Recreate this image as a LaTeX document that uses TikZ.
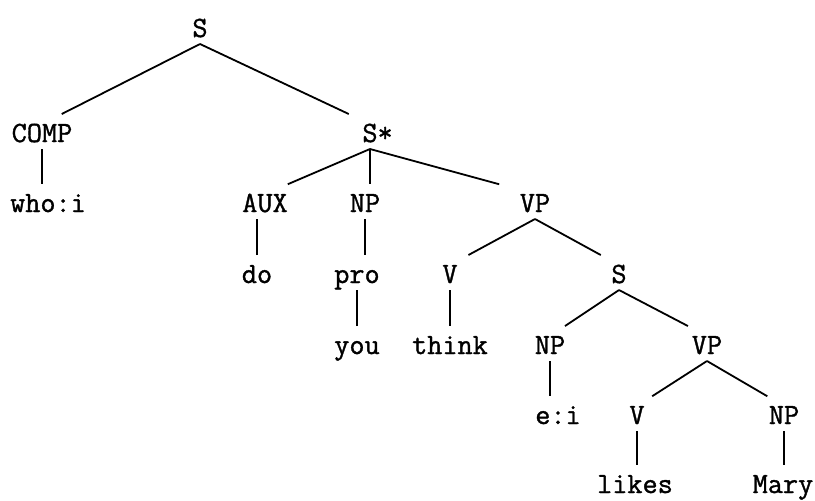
\documentclass[tikz,border=0pt]{standalone}
\usepackage{fontspec}
\newfontfamily\treefont{Latin Modern Mono}[FakeBold=1.2]
\usetikzlibrary{calc}
\tikzset{
  lbl/.style={anchor=base, inner sep=0pt, font=\fontsize{14.7}{16}\treefont},
  edge/.style={line width=0.9pt}
}
% slanted branch: from below the parent towards the top of the child
\newcommand\tbranch[3][0.217]{%
  \path ($(#2.base)+(0,7)$) coordinate (ta) ($(#3.base)+(0,-18)$) coordinate (tb);
  \draw[edge] (ta) -- ($(tb)!#1!(ta)$);}
% vertical branch under the parent
\newcommand\tvert[2]{%
  \path ($(#2.base)+(0,-28)$) coordinate (tb);
  \draw[edge] ($(#1.base)+(0,7)$) coordinate (ta) -- (ta |- tb);}
% vertical branch above the child
\newcommand\tvertc[2]{%
  \path ($(#1.base)+(0,7)$) coordinate (ta);
  \draw[edge] ($(#2.base)+(0,-28)$) coordinate (tb) -- (tb |- ta);}
\begin{document}
\begin{tikzpicture}[x=0.5pt,y=-0.5pt]
\useasboundingbox (0,0) rectangle (815,500);
\node[lbl] (S0)    at (200,37)  {S};
\node[lbl] (COMP)  at (42,142)  {COMP};
\node[lbl] (Sstar) at (370,142) {S\rlap{*}};
\node[lbl] (who)   at (48,212)  {who:i};
\node[lbl] (AUX)   at (265,212) {AUX};
\node[lbl] (NP1)   at (365,212) {NP};
\node[lbl] (VP1)   at (535,212) {VP};
\node[lbl] (do)    at (257,283) {do};
\node[lbl] (pro)   at (357,283) {pro};
\node[lbl] (V1)    at (450,283) {V};
\node[lbl] (S2)    at (619,283) {S};
\node[lbl] (you)   at (357,354) {you};
\node[lbl] (think) at (450,354) {think};
\node[lbl] (NP2)   at (550,354) {NP};
\node[lbl] (VP2)   at (707,354) {VP};
\node[lbl] (ei)    at (558,424) {e:i};
\node[lbl] (V2)    at (637,424) {V};
\node[lbl] (NP3)   at (784,424) {NP};
\node[lbl] (likes) at (635,493) {likes};
\node[lbl] (Mary)  at (783,493) {Mary};
\tbranch[0.125]{S0}{COMP}
\tbranch[0.125]{S0}{Sstar}
\tvert{COMP}{who}
\tbranch{Sstar}{AUX}
\tvert{Sstar}{NP1}
\tbranch{Sstar}{VP1}
\tvertc{AUX}{do}
\tvert{NP1}{pro}
\tvertc{pro}{you}
\tbranch{VP1}{V1}
\tbranch{VP1}{S2}
\tvert{V1}{think}
\tbranch{S2}{NP2}
\tbranch{S2}{VP2}
\tvert{NP2}{ei}
\tbranch{VP2}{V2}
\tbranch{VP2}{NP3}
\tvert{V2}{likes}
\tvert{NP3}{Mary}
\end{tikzpicture}
\end{document}
